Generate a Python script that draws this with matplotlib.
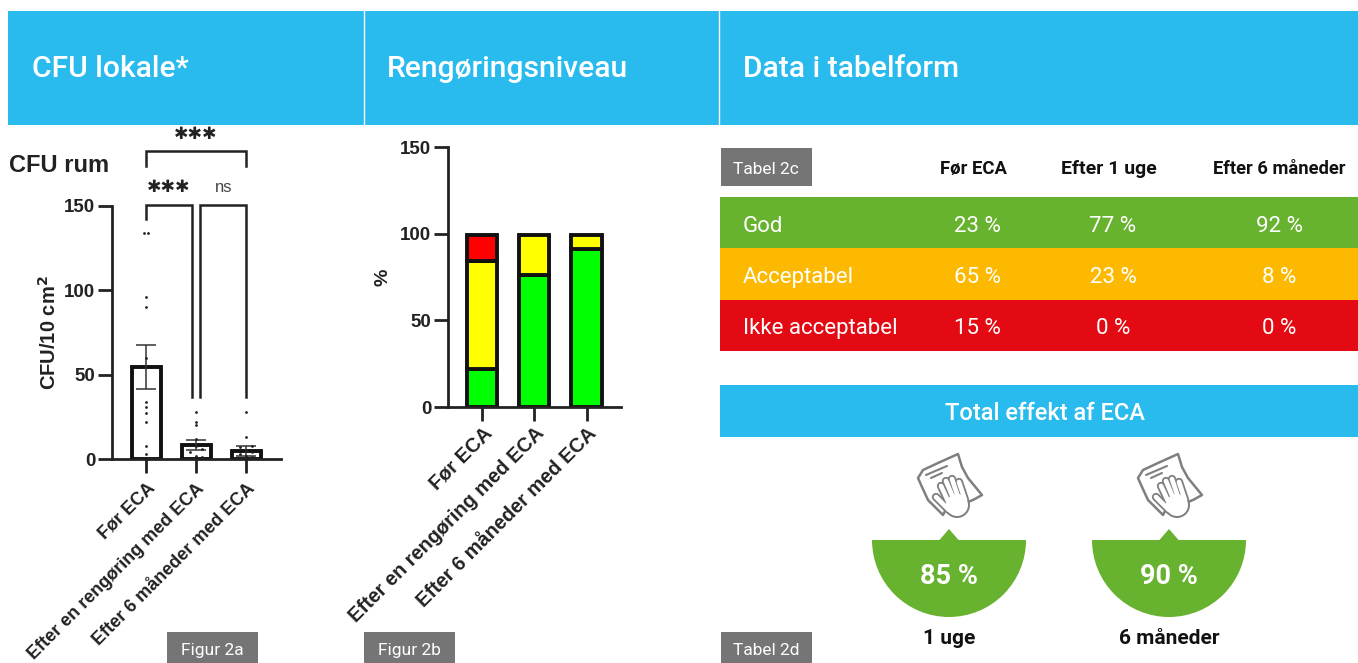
import numpy as np
import matplotlib
matplotlib.use('Agg')
import matplotlib.pyplot as plt
from matplotlib.patches import Rectangle, Wedge, Polygon, Circle

W, H = 1358, 663

# Figur 2a
cfu_labels = ['Før ECA', 'Efter en rengøring med ECA', 'Efter 6 måneder med ECA']
cfu_means = [54.5, 8.5, 5]
cfu_sem = [13, 3, 3]
cfu_points = [
    [134, 134, 96, 90, 60, 34, 31, 27, 22, 8, 3],
    [28, 22, 20, 12, 8, 6, 4, 2, 1],
    [28, 13, 8, 7, 5, 4, 3, 2, 1],
]

# Figur 2b
level_green = [22, 76, 91]
level_yellow = [62, 23, 8]
level_red = [15, 0, 0]

# Tabel 2c
table_cols = ['Før ECA', 'Efter 1 uge', 'Efter 6 måneder']
table_rows = ['God', 'Acceptabel', 'Ikke acceptabel']
table_vals = [['23 %', '77 %', '92 %'],
              ['65 %', '23 %', '8 %'],
              ['15 %', '0 %', '0 %']]

# Tabel 2d
effect_vals = ['85 %', '90 %']
effect_labels = ['1 uge', '6 måneder']

BLUE = '#29BBEE'
GREY = '#757575'
GREEN = '#67B22F'
AMBER = '#FDB900'
RED = '#E30A13'
HEAD = 'Roboto'
ARIAL = 'Liberation Sans'

fig = plt.figure(figsize=(W / 100, H / 100), dpi=100)

# baggrund i pixels
bg = fig.add_axes([0, 0, 1, 1])
bg.set_xlim(0, W)
bg.set_ylim(H, 0)
bg.axis('off')


def box(x0, y0, x1, y1, c):
    bg.add_patch(Rectangle((x0, y0), x1 - x0, y1 - y0, fc=c, ec='none'))


box(8, 11, W, 125, BLUE)
for x in [364, 719]:
    bg.plot([x, x], [11, 125], color='white', lw=1)
for x, t in zip([32, 387, 743], ['CFU lokale*', 'Rengøringsniveau', 'Data i tabelform']):
    bg.text(x, 69, t, color='white', fontsize=21.6, family=HEAD, weight='medium', va='center')

for x, y0, t in [(167, 632, 'Figur 2a'), (364, 632, 'Figur 2b'), (721, 632, 'Tabel 2d'), (721, 148, 'Tabel 2c')]:
    y1 = 186 if y0 == 148 else H
    box(x, y0, x + 91, y1, GREY)
    bg.text(x + 45, (y0 + y1) / 2 + 3, t, color='white', fontsize=12.5, family=HEAD, ha='center', va='center')

# tabel
col_x = [974, 1109, 1279]
col_size = [13.3, 14, 13.2]
for x, s, t in zip(col_x, col_size, table_cols):
    bg.text(x, 169, t, fontsize=s, family=HEAD, weight='bold', color='#111111', ha='center', va='center')
for i, c in enumerate([GREEN, AMBER, RED]):
    y0 = 197 + i * 51.3
    box(720, y0, W, y0 + 51.3, c)
    bg.text(743, y0 + 29, table_rows[i], color='white', fontsize=16, family=HEAD, va='center')
    for x, t in zip([977, 1113, 1279], table_vals[i]):
        bg.text(x, y0 + 29, t, color='white', fontsize=16, family=HEAD, ha='center', va='center')

box(720, 385, W, 437, BLUE)
bg.text(1045, 413, 'Total effekt af ECA', color='white', fontsize=17, family=HEAD, weight='medium', ha='center', va='center')


def wipe_icon(ox, oy):
    # klud og hånd, tegnet i pixels ud fra ikonets hjørne
    c = '#7F7F7F'
    cloth = [(13, 33), (18, 25), (33, 18), (53, 9), (57, 22), (63, 33), (77, 50), (68, 55),
             (40, 66), (38, 70), (23, 55), (17, 42)]
    bg.add_patch(Polygon([(ox + a, oy + b) for a, b in cloth], closed=True, fc='white', ec=c, lw=1.8,
                         joinstyle='round'))
    for a, b in [((21, 30), (42, 21)), ((26, 33), (37, 28))]:
        bg.plot([ox + a[0], ox + b[0]], [oy + a[1], oy + b[1]], color=c, lw=1.5, solid_capstyle='round')
    fingers = [((31, 52), (44, 65)), ((36, 41), (44, 58)), ((41, 36), (49, 55)), ((47, 34), (54, 55)), ((54, 37), (60, 55))]
    palm = (ox + 52, oy + 60)
    bg.add_patch(Circle(palm, 13, fc=c, ec='none', zorder=3))
    for a, b in fingers:
        bg.plot([ox + a[0], ox + b[0]], [oy + a[1], oy + b[1]], color=c, lw=6, solid_capstyle='round', zorder=3)
    bg.add_patch(Circle(palm, 11, fc='white', ec='none', zorder=4))
    for a, b in fingers:
        bg.plot([ox + a[0], ox + b[0]], [oy + a[1], oy + b[1]], color='white', lw=3.4, solid_capstyle='round', zorder=4)


for cx, v, lab in zip([949, 1169], effect_vals, effect_labels):
    bg.add_patch(Wedge((cx, 540), 77, 0, 180, fc=GREEN, ec='none'))
    bg.add_patch(Polygon([(cx - 10, 540.5), (cx, 529), (cx + 10, 540.5)], fc=GREEN, ec='none'))
    bg.text(cx, 576, v, color='white', fontsize=19.5, family=HEAD, weight='bold', ha='center', va='center')
    bg.text(cx, 639, lab, color='#111111', fontsize=15, family=HEAD, weight='bold', ha='center', va='center')
    wipe_icon(cx - 44, 445)


def chart_axes(left, right, top, bottom, xlim, ymax=150):
    ax = fig.add_axes([left / W, 1 - bottom / H, (right - left) / W, (bottom - top) / H])
    ax.set_xlim(*xlim)
    ax.set_ylim(0, ymax)
    ax.patch.set_alpha(0)
    for s in ['top', 'right']:
        ax.spines[s].set_visible(False)
    for s in ['left', 'bottom']:
        ax.spines[s].set_linewidth(2)
        ax.spines[s].set_color('#222222')
    ax.set_yticks([0, 50, 100, 150])
    ax.tick_params(length=10, width=2, color='#222222', labelcolor='#222222', pad=2)
    for t in ax.get_yticklabels():
        t.set_fontsize(13.5)
        t.set_fontweight('bold')
        t.set_fontfamily(ARIAL)
    return ax


# Figur 2a
pos = np.arange(3)
ax1 = chart_axes(112, 281, 206, 459, (-0.68, 2.7))
ax1.bar(pos, cfu_means, width=0.58, fc='white', ec='#111111', lw=2.8, zorder=2)
ax1.errorbar(pos, cfu_means, yerr=cfu_sem, fmt='none', ecolor='#333333', elinewidth=1.1, capsize=7, capthick=1.1, zorder=3)
for i, pts in enumerate(cfu_points):
    offs = [0] * len(pts)
    if i == 0:
        offs[0], offs[1] = -0.04, 0.04
    else:
        offs = [0.12 * ((k % 3) - 1) if p < 10 else 0 for k, p in enumerate(pts)]
    ax1.scatter(pos[i] + np.array(offs), pts, s=4, color='#222222', zorder=4, linewidths=0)
ax1.set_xticks(pos)
ax1.set_xticklabels(cfu_labels, rotation=45, ha='right', rotation_mode='anchor', fontsize=13,
                    fontweight='bold', family=ARIAL)
ax1.tick_params(axis='x', pad=5)
ax1.set_ylabel('CFU/10 cm$^{\\mathbf{2}}$', fontsize=14.5, fontweight='bold', family=ARIAL, color='#222222', labelpad=3)


def bracket(ax, x0, x1, top, d0, d1):
    ax.plot([x0, x0, x1, x1], [d0, top, top, d1], color='#222222', lw=1.8, clip_on=False, solid_joinstyle='miter')


bracket(ax1, 0, 2, 182.5, 174, 174)
bracket(ax1, 0, 0.92, 150.5, 142, 37)
bracket(ax1, 1.08, 2, 150.5, 37, 37)
ax1.text(1, 192.5, '✱✱✱', fontsize=12.5, family='DejaVu Sans', ha='center', va='center', color='#222222', clip_on=False)
ax1.text(0.46, 161.3, '✱✱✱', fontsize=12.5, family='DejaVu Sans', ha='center', va='center', color='#222222', clip_on=False)
ax1.text(1.55, 161, 'ns', fontsize=12, family=ARIAL, ha='center', va='center', color='#444444', clip_on=False)
bg.text(9, 165, 'CFU rum', fontsize=17, fontweight='bold', family=ARIAL, color='#222222', va='center')

# Figur 2b
ax2 = chart_axes(448, 621, 147, 407, (-0.654, 2.66))
yellow_bottom = np.array(level_green)
red_bottom = yellow_bottom + np.array(level_yellow)
ax2.bar(pos, level_green, width=0.58, fc='#00FF00', ec='#111111', lw=2.8)
ax2.bar(pos, level_yellow, width=0.58, bottom=yellow_bottom, fc='#FFFF00', ec='#111111', lw=2.8)
ax2.bar(pos[0], level_red[0], width=0.58, bottom=red_bottom[0], fc='#FF0000', ec='#111111', lw=2.8)
ax2.set_xticks(pos)
ax2.set_xticklabels(cfu_labels, rotation=45, ha='right', rotation_mode='anchor', fontsize=14.4,
                    fontweight='bold', family=ARIAL)
ax2.set_ylabel('%', fontsize=14, fontweight='bold', family=ARIAL, color='#222222', labelpad=6)

fig.savefig('out.png', dpi=100)
